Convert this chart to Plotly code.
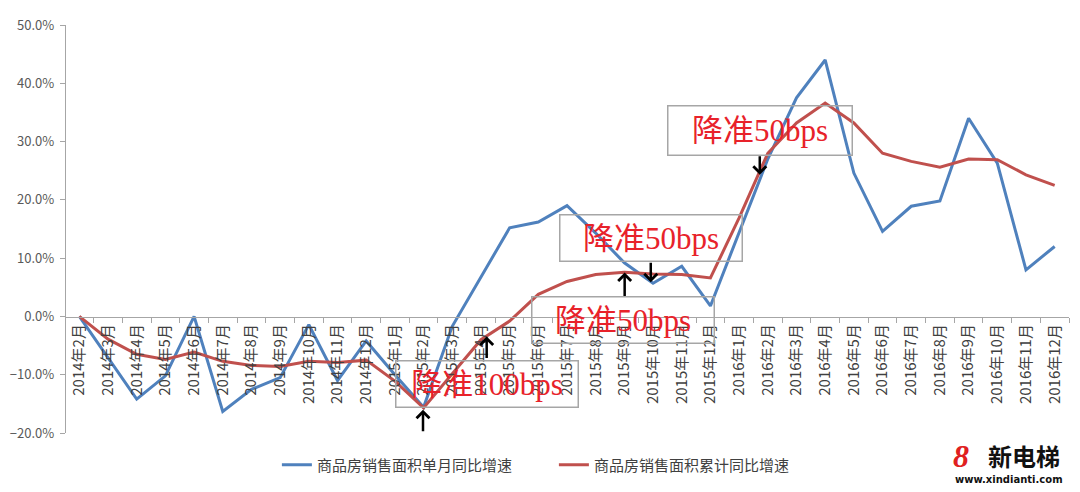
import plotly.graph_objects as go

# ---------------- data ----------------
months = (
    [f"2014年{m}月" for m in range(2, 13)]
    + [f"2015年{m}月" for m in range(1, 13)]
    + [f"2016年{m}月" for m in range(1, 13)]
)

monthly_yoy = [  # 商品房销售面积单月同比增速 (%)
    0.0, -7.2, -14.2, -10.2, 0.0, -16.3, -12.5, -10.5, -1.4, -11.0, -4.2,
    -10.0, -15.6, -1.7, 6.7, 15.2, 16.2, 19.0, 14.3, 9.2, 5.7, 8.6, 1.8,
    14.5, 27.0, 37.5, 44.0, 24.6, 14.6, 18.9, 19.8, 34.0, 26.3, 8.0, 12.0,
]
cumulative_yoy = [  # 商品房销售面积累计同比增速 (%)
    0.0, -3.9, -6.5, -7.4, -6.1, -7.7, -8.4, -8.6, -7.7, -7.9, -7.5,
    -11.1, -15.7, -9.8, -4.0, -0.8, 3.8, 6.0, 7.2, 7.6, 7.3, 7.2, 6.6,
    16.9, 28.0, 33.2, 36.6, 33.2, 28.0, 26.6, 25.6, 27.0, 26.9, 24.3, 22.5,
]
series_names = ["商品房销售面积单月同比增速", "商品房销售面积累计同比增速"]

callout_labels = ["降准50bps", "降准100bps", "降准50bps", "降准50bps", "降准50bps"]
# ---------------------------------------

BLUE = "#4F81BD"
RED = "#C0504D"
CJK = "Noto Sans CJK SC"
SERIF = "Liberation Serif, Noto Sans CJK SC"

# page body has an 8px margin -> compensate
OFF = 8
W, H = 1080, 492
L, R, T, B = 65 - OFF, 10.5 + OFF, 25 - OFF, 59 + OFF
pw, ph = W - L - R, H - T - B


def px2paper(px, py):
    return (px - OFF - L) / pw, (H - B - (py - OFF)) / ph


fig = go.Figure()
fig.add_trace(go.Scatter(x=months, y=monthly_yoy, mode="lines", name=series_names[0],
                         line=dict(color=BLUE, width=3)))
fig.add_trace(go.Scatter(x=months, y=cumulative_yoy, mode="lines", name=series_names[1],
                         line=dict(color=RED, width=3)))

boxes = [
    (11.99, -24.34, 183, 47),
    (14.22, -11.66, 181, 45),
    (18.94, -0.65, 181, 45),
    (19.92, 13.46, 181, 45),
    (23.72, 31.89, 183, 48),
]
annotations = []
for lab, (bx, by, bw, bh) in zip(callout_labels, boxes):
    annotations.append(dict(
        x=bx, y=by, xref="x", yref="y", text=lab, showarrow=False,
        width=bw, height=bh, borderpad=0, bordercolor="#A6A6A6", borderwidth=1.5,
        bgcolor="rgba(255,255,255,0)",
        font=dict(family=SERIF, size=31, color="#E8222A"),
        xanchor="center", yanchor="middle", align="center", valign="middle",
    ))

arrows = [
    (11.98, -16.0, 23),
    (14.2, -3.45, 23),
    (19.01, 7.55, 25),
    (19.92, 5.85, -21),
    (23.72, 24.3, -20),
]
for ax_, ay_, off in arrows:
    annotations.append(dict(
        x=ax_, y=ay_, xref="x", yref="y", text="", showarrow=True,
        ax=0, ay=off, axref="pixel", ayref="pixel",
        arrowhead=4, arrowsize=1.0, arrowwidth=2.5, arrowcolor="black", standoff=0,
    ))

# watermark logo
lx, ly = px2paper(961, 456)
annotations.append(dict(x=lx, y=ly, xref="paper", yref="paper", text="<b><i>8</i></b>",
                        xanchor="center", yanchor="middle",
                        showarrow=False, font=dict(family="Liberation Serif", size=32, color="#E02020")))
lx, ly = px2paper(1024, 455)
annotations.append(dict(x=lx, y=ly, xref="paper", yref="paper", text="<b>新电梯</b>",
                        xanchor="center", yanchor="middle",
                        showarrow=False, font=dict(family=CJK, size=24, color="#111111")))
lx, ly = px2paper(1009, 479)
annotations.append(dict(x=lx, y=ly, xref="paper", yref="paper", text="<b>www.xindianti.com</b>",
                        xanchor="center", yanchor="middle",
                        showarrow=False, font=dict(family="DejaVu Sans", size=10, color="#111111")))

lgx, lgy = px2paper(277, 465)
fig.update_layout(
    width=W, height=H,
    margin=dict(l=L, r=R, t=T, b=B, pad=0),
    paper_bgcolor="white", plot_bgcolor="white",
    font=dict(family=CJK, color="#595959"),
    showlegend=True,
    legend=dict(orientation="h", x=lgx, y=lgy,
                xanchor="left", yanchor="middle", entrywidth=232, entrywidthmode="pixels",
                font=dict(family=CJK, size=15, color="#404040"), bgcolor="rgba(0,0,0,0)"),
    xaxis=dict(type="category", range=[-0.5, 34.5], anchor="free", position=116 / 408,
               showline=True, linecolor="#A6A6A6", linewidth=1.2,
               ticks="outside", tickson="boundaries", ticklen=5, tickcolor="#A6A6A6",
               tickangle=-90, showgrid=False, zeroline=False, automargin=False,
               tickfont=dict(family=CJK, size=15, color="#404040")),
    yaxis=dict(range=[-20, 50], dtick=10, tickformat=".1f", ticksuffix="%",
               anchor="free", position=0,
               showline=True, linecolor="#A6A6A6", linewidth=1.2,
               ticks="outside", ticklen=5, tickcolor="#A6A6A6", ticklabelstandoff=3,
               showgrid=False, zeroline=False, automargin=False,
               tickfont=dict(family=CJK, size=13, color="#595959")),
    annotations=annotations,
)

fig.write_html("out.html")
